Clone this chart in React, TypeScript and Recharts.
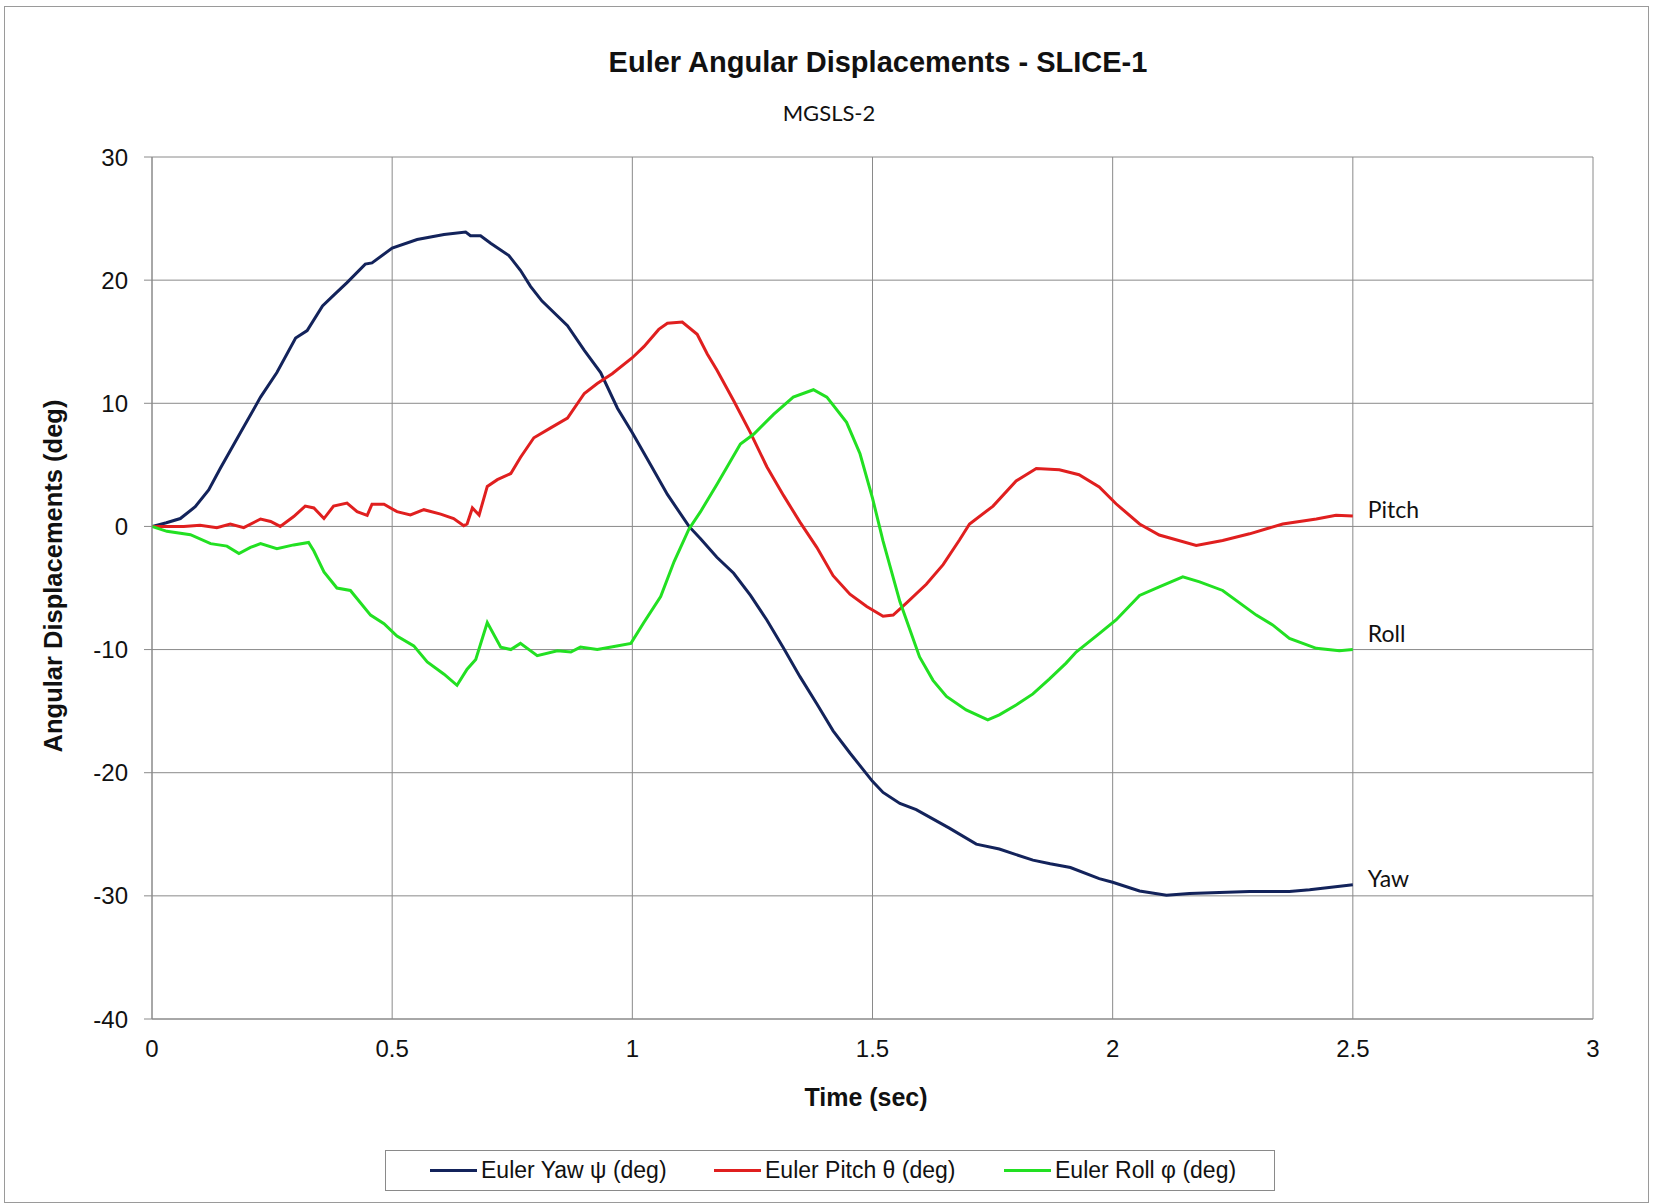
import { CartesianGrid, Line, LineChart, XAxis, YAxis } from "recharts";

// [time (sec), angle (deg)]
const YAW: [number, number][] = [
  [0, 0], [0.03, 0.3], [0.059, 0.64], [0.09, 1.6], [0.118, 2.96], [0.142, 4.7],
  [0.184, 7.6], [0.226, 10.5], [0.26, 12.5], [0.299, 15.3], [0.323, 15.9],
  [0.355, 17.9], [0.379, 18.8], [0.406, 19.8], [0.444, 21.3], [0.458, 21.4],
  [0.5, 22.6], [0.552, 23.3], [0.608, 23.7], [0.653, 23.9], [0.663, 23.6],
  [0.684, 23.6], [0.705, 23.0], [0.743, 22.0], [0.767, 20.8], [0.788, 19.5],
  [0.812, 18.3], [0.865, 16.3], [0.9, 14.3], [0.934, 12.5], [0.969, 9.6],
  [1.0, 7.6], [1.038, 5.0], [1.073, 2.6], [1.118, 0.0], [1.142, -1.0],
  [1.176, -2.5], [1.211, -3.8], [1.246, -5.6], [1.28, -7.6], [1.315, -9.9],
  [1.349, -12.2], [1.384, -14.4], [1.418, -16.6], [1.453, -18.4], [1.5, -20.7],
  [1.522, -21.6], [1.557, -22.5], [1.591, -23.0], [1.66, -24.5], [1.716, -25.8],
  [1.764, -26.2], [1.834, -27.1], [1.87, -27.4], [1.912, -27.7], [1.972, -28.6],
  [2.0, -28.9], [2.056, -29.6], [2.112, -29.95], [2.16, -29.8], [2.285, -29.65],
  [2.368, -29.65], [2.41, -29.5], [2.5, -29.1],
];

const PITCH: [number, number][] = [
  [0, 0], [0.066, 0], [0.1, 0.1], [0.135, -0.1], [0.163, 0.2], [0.191, -0.1],
  [0.226, 0.6], [0.247, 0.4], [0.267, 0], [0.295, 0.8], [0.319, 1.65],
  [0.337, 1.5], [0.358, 0.64], [0.378, 1.65], [0.406, 1.9], [0.427, 1.2],
  [0.448, 0.9], [0.458, 1.8], [0.483, 1.8], [0.51, 1.2], [0.538, 0.93],
  [0.566, 1.36], [0.601, 1.0], [0.628, 0.64], [0.649, 0.06], [0.656, 0.2],
  [0.667, 1.5], [0.681, 0.93], [0.698, 3.25], [0.719, 3.8], [0.747, 4.3],
  [0.767, 5.6], [0.795, 7.2], [0.83, 8.0], [0.865, 8.8], [0.9, 10.8],
  [0.927, 11.6], [0.958, 12.4], [1.0, 13.7], [1.024, 14.6], [1.055, 16.0],
  [1.073, 16.5], [1.104, 16.6], [1.135, 15.6], [1.156, 14.0], [1.176, 12.7],
  [1.211, 10.2], [1.246, 7.6], [1.28, 4.85], [1.315, 2.5], [1.349, 0.35],
  [1.384, -1.7], [1.418, -4.0], [1.453, -5.5], [1.488, -6.5], [1.522, -7.3],
  [1.543, -7.2], [1.571, -6.2], [1.612, -4.7], [1.647, -3.1], [1.681, -1.1],
  [1.702, 0.2], [1.751, 1.65], [1.799, 3.7], [1.841, 4.7], [1.889, 4.6],
  [1.93, 4.2], [1.972, 3.2], [2.007, 1.84], [2.056, 0.2], [2.097, -0.7],
  [2.174, -1.54], [2.229, -1.14], [2.285, -0.6], [2.354, 0.2], [2.424, 0.6],
  [2.465, 0.9], [2.5, 0.84],
];

const ROLL: [number, number][] = [
  [0, 0], [0.031, -0.4], [0.08, -0.67], [0.122, -1.4], [0.156, -1.6],
  [0.181, -2.2], [0.205, -1.7], [0.226, -1.4], [0.26, -1.8], [0.295, -1.5],
  [0.326, -1.3], [0.337, -2.0], [0.358, -3.7], [0.385, -5.0], [0.413, -5.2],
  [0.455, -7.2], [0.483, -7.9], [0.51, -8.9], [0.545, -9.7], [0.573, -11.0],
  [0.608, -12.0], [0.635, -12.9], [0.656, -11.6], [0.674, -10.8], [0.698, -7.8],
  [0.726, -9.8], [0.747, -10.0], [0.767, -9.5], [0.802, -10.5], [0.844, -10.1],
  [0.872, -10.2], [0.892, -9.8], [0.927, -10.0], [0.962, -9.75], [0.997, -9.5],
  [1.024, -7.8], [1.059, -5.7], [1.087, -2.85], [1.118, -0.2], [1.142, 1.2],
  [1.176, 3.4], [1.225, 6.7], [1.253, 7.5], [1.294, 9.1], [1.335, 10.5],
  [1.377, 11.1], [1.405, 10.5], [1.446, 8.45], [1.474, 5.9], [1.5, 2.3],
  [1.522, -1.2], [1.557, -6.1], [1.598, -10.6], [1.626, -12.5], [1.654, -13.8],
  [1.695, -14.9], [1.74, -15.7], [1.764, -15.3], [1.799, -14.5], [1.834, -13.6],
  [1.868, -12.4], [1.903, -11.1], [1.924, -10.2], [1.972, -8.7], [2.007, -7.6],
  [2.056, -5.6], [2.097, -4.9], [2.146, -4.1], [2.181, -4.5], [2.229, -5.2],
  [2.299, -7.2], [2.333, -8.0], [2.368, -9.1], [2.424, -9.9], [2.472, -10.1],
  [2.5, -10.0],
];

const X_TICKS = [0, 0.5, 1, 1.5, 2, 2.5, 3];
const Y_TICKS = [-40, -30, -20, -10, 0, 10, 20, 30];

const SERIES = [
  { key: "yaw", name: "Euler Yaw ψ (deg)", tag: "Yaw", points: YAW, color: "#13235b", dy: 2 },
  { key: "pitch", name: "Euler Pitch θ (deg)", tag: "Pitch", points: PITCH, color: "#e01f1f", dy: 2 },
  { key: "roll", name: "Euler Roll φ (deg)", tag: "Roll", points: ROLL, color: "#22e022", dy: -8 },
];

const ARIAL = '"Liberation Sans", Arial, sans-serif';
const CALIBRI = 'Lato, "Open Sans", sans-serif';
const GRID = "#8a8a8a";
const TICK = { fill: "#111", fontSize: 24, fontFamily: ARIAL };

const W = 1653;
const H = 1204;

const toRows = (pts: [number, number][]) => pts.map(([t, v]) => ({ t, v }));

function endLabel(text: string, dy: number, last: number) {
  return (props: any) => {
    if (props.index !== last) return null;
    return (
      <text
        x={props.x + 15}
        y={props.y + dy}
        fontFamily={CALIBRI}
        fontSize={23}
        fill="#111"
      >
        {text}
      </text>
    );
  };
}

export default function App() {
  return (
    <div style={{ position: "absolute", left: 0, top: 0, width: W, height: H, background: "#fff" }}>
      <div
        style={{
          position: "absolute",
          left: 4,
          top: 6,
          width: W - 8,
          height: H - 7,
          border: "1px solid #9a9a9a",
          boxSizing: "border-box",
        }}
      />
      <LineChart
        width={W}
        height={H}
        margin={{ top: 157, right: 60, bottom: 145, left: 0 }}
        style={{ position: "absolute", left: 0, top: 0 }}
      >
        <CartesianGrid stroke={GRID} strokeWidth={1} />
        <XAxis
          type="number"
          dataKey="t"
          domain={[0, 3]}
          ticks={X_TICKS}
          allowDataOverflow
          height={40}
          axisLine={{ stroke: GRID }}
          tickLine={false}
          tickMargin={21}
          tickSize={0}
          tick={TICK}
        />
        <YAxis
          type="number"
          dataKey="v"
          domain={[-40, 30]}
          ticks={Y_TICKS}
          width={152}
          axisLine={{ stroke: GRID }}
          tickLine={{ stroke: GRID }}
          tickSize={8}
          tickMargin={16}
          tick={TICK}
        />
        {SERIES.map((s) => (
          <Line
            key={s.key}
            data={toRows(s.points)}
            dataKey="v"
            name={s.name}
            type="linear"
            stroke={s.color}
            strokeWidth={3}
            dot={false}
            activeDot={false}
            isAnimationActive={false}
            label={endLabel(s.tag, s.dy, s.points.length - 1)}
          />
        ))}
      </LineChart>

      <div
        style={{
          position: "absolute",
          left: 878,
          top: 62,
          transform: "translate(-50%, -50%)",
          fontFamily: ARIAL,
          fontWeight: 700,
          fontSize: 29,
          lineHeight: 1,
          whiteSpace: "nowrap",
          color: "#111",
        }}
      >
        Euler Angular Displacements - SLICE-1
      </div>
      <div
        style={{
          position: "absolute",
          left: 829,
          top: 113,
          transform: "translate(-50%, -50%)",
          fontFamily: CALIBRI,
          fontSize: 22,
          lineHeight: 1,
          whiteSpace: "nowrap",
          color: "#111",
        }}
      >
        MGSLS-2
      </div>
      <div
        style={{
          position: "absolute",
          left: 54,
          top: 576,
          transform: "translate(-50%, -50%) rotate(-90deg)",
          fontFamily: ARIAL,
          fontWeight: 700,
          fontSize: 25.5,
          lineHeight: 1,
          whiteSpace: "nowrap",
          color: "#111",
        }}
      >
        Angular Displacements (deg)
      </div>
      <div
        style={{
          position: "absolute",
          left: 866,
          top: 1097,
          transform: "translate(-50%, -50%)",
          fontFamily: ARIAL,
          fontWeight: 700,
          fontSize: 25,
          lineHeight: 1,
          whiteSpace: "nowrap",
          color: "#111",
        }}
      >
        Time (sec)
      </div>

      <div
        style={{
          position: "absolute",
          left: 385,
          top: 1150,
          width: 890,
          height: 41,
          border: "1px solid #8a8a8a",
          boxSizing: "border-box",
          fontFamily: ARIAL,
          fontSize: 23,
          color: "#111",
        }}
      >
        {SERIES.map((s, i) => (
          <div
            key={s.key}
            style={{
              position: "absolute",
              left: [44, 328, 618][i],
              top: 0,
              height: 39,
              display: "flex",
              alignItems: "center",
              whiteSpace: "nowrap",
            }}
          >
            <span style={{ display: "inline-block", width: 47, height: 3, background: s.color, marginRight: 4 }} />
            {s.name}
          </div>
        ))}
      </div>
    </div>
  );
}
